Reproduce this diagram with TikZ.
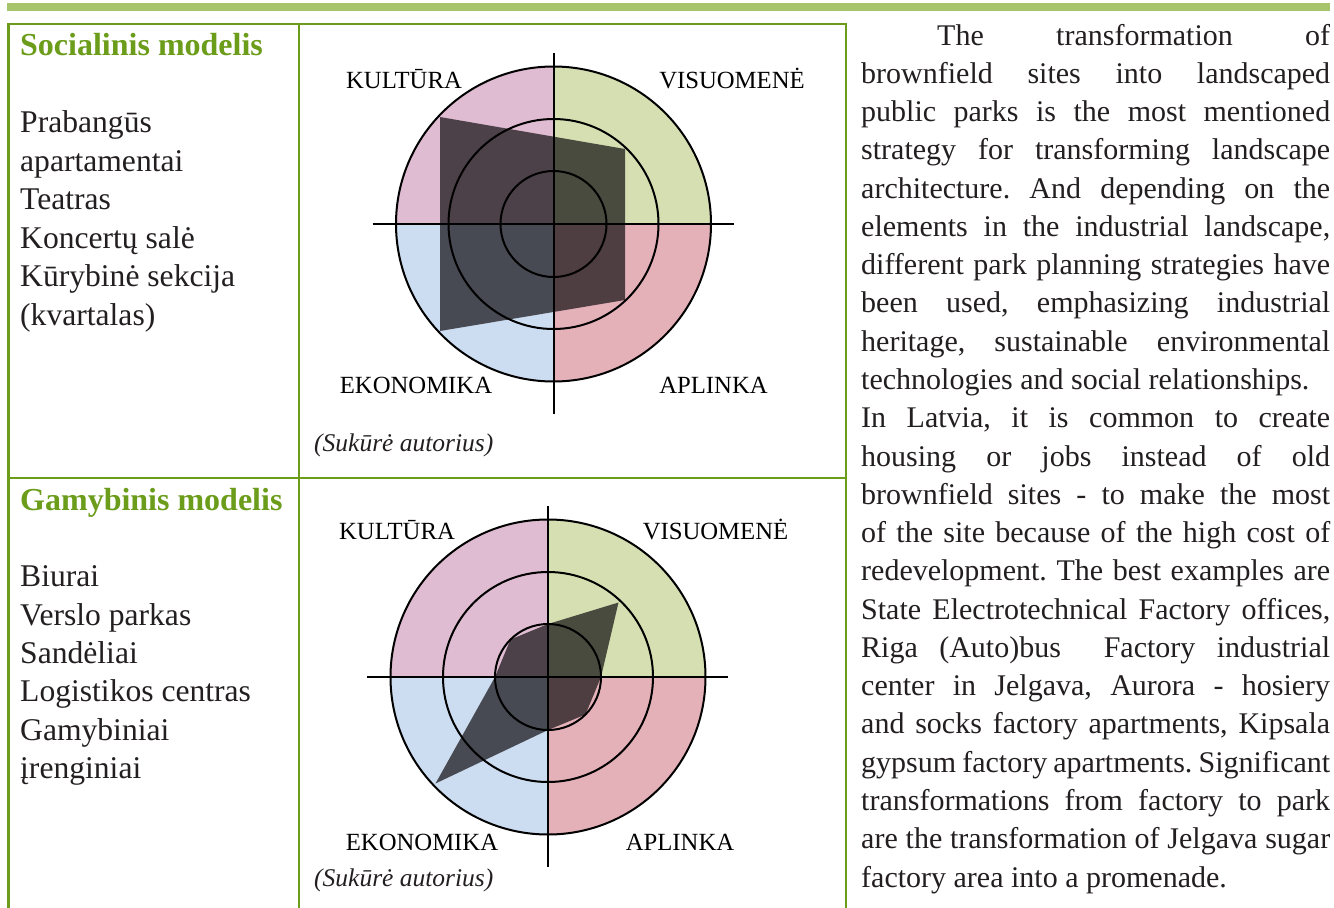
\documentclass[tikz,border=0pt]{standalone}
\usepackage{fontspec}
\setmainfont{Liberation Serif}
\definecolor{framegreen}{RGB}{107,156,26}
\definecolor{bargreen}{RGB}{166,196,106}
\definecolor{ink}{RGB}{35,31,32}
\definecolor{qpink}{RGB}{224,188,210}
\definecolor{qgreen}{RGB}{214,223,178}
\definecolor{qrose}{RGB}{229,177,184}
\definecolor{qblue}{RGB}{204,220,241}
\definecolor{shade}{RGB}{15,13,15}
\frenchspacing
% quadrant fills of one wheel (outer radius #1)
\newcommand{\wheelfills}[1]{%
  \fill[qgreen] (0,0) -- (0:#1) arc[start angle=0,end angle=90,radius=#1] -- cycle;
  \fill[qpink]  (0,0) -- (90:#1) arc[start angle=90,end angle=180,radius=#1] -- cycle;
  \fill[qblue]  (0,0) -- (180:#1) arc[start angle=180,end angle=270,radius=#1] -- cycle;
  \fill[qrose]  (0,0) -- (270:#1) arc[start angle=270,end angle=360,radius=#1] -- cycle;
}
% rings and cross of one wheel
\newcommand{\wheelrings}{%
  \draw[ring] (0,0) circle[radius=53pt];
  \draw[ring] (0,0) circle[radius=105pt];
  \draw[ring] (0,0) circle[radius=157.5pt];
  \draw[crossline] (-181,0) -- (180,0);
  \draw[crossline] (0,-171) -- (0,190);
}
\begin{document}
\begin{tikzpicture}[x=1pt,y=-1pt,
  tableline/.style={draw=framegreen,line width=2.7pt},
  ring/.style={draw=black,line width=2pt},
  crossline/.style={draw=black,line width=2pt},
  radarfill/.style={fill=shade,fill opacity=0.7},
  quadlabel/.style={font=\fontsize{24.7}{28}\selectfont,text=black,inner sep=0pt,anchor=base},
  sourcenote/.style={font=\fontsize{25.5}{30}\selectfont\itshape,text=ink,inner sep=0pt,anchor=base west},
  heading/.style={font=\fontsize{32}{38}\selectfont\bfseries,text=framegreen,inner sep=0pt,anchor=base west},
  listitem/.style={font=\fontsize{31.6}{38}\selectfont,text=ink,inner sep=0pt,anchor=base west},
  bodyline/.style={font=\fontsize{30}{38}\selectfont,text=ink,inner sep=0pt,anchor=base west}]
\useasboundingbox (0,0) rectangle (1334,908);
\fill[white] (0,0) rectangle (1334,908);

% top rule
\fill[bargreen] (7,3) rectangle (1330,10.5);

% table frame
\draw[tableline] (8.7,908) -- (8.7,24) -- (846,24) -- (846,908);
\draw[tableline] (8.7,478) -- (846,478);
\draw[tableline] (299,24) -- (299,908);

% left column: social model
\node[heading]  (hsoc) at (20,55)    {Socialinis modelis};
\node[listitem] (s1)   at (20,132.5) {Prabangūs};
\node[listitem] (s2)   at (20,171)   {apartamentai};
\node[listitem] (s3)   at (20,209.5) {Teatras};
\node[listitem] (s4)   at (20,248)   {Koncertų salė};
\node[listitem] (s5)   at (20,286.5) {Kūrybinė sekcija};
\node[listitem] (s6)   at (20,325)   {(kvartalas)};

% left column: production model
\node[heading]  (hgam) at (20,510.5) {Gamybinis modelis};
\node[listitem] (g1)   at (20,586.5) {Biurai};
\node[listitem] (g2)   at (20,625)   {Verslo parkas};
\node[listitem] (g3)   at (20,663.3) {Sandėliai};
\node[listitem] (g4)   at (20,701.7) {Logistikos centras};
\node[listitem] (g5)   at (20,740)   {Gamybiniai};
\node[listitem] (g6)   at (20,778.3) {įrenginiai};

% upper wheel
\begin{scope}[shift={(553.5,224)}]
  \wheelfills{157.5pt}
  \fill[radarfill] (-113.5,-107) -- (71.5,-75) -- (71.5,76) -- (-113.5,107) -- cycle;
  \wheelrings
\end{scope}
\node[quadlabel] (k1) at (404,88.5)  {KULTŪRA};
\node[quadlabel] (v1) at (732,88.5)  {VISUOMENĖ};
\node[quadlabel] (e1) at (416,393.5) {EKONOMIKA};
\node[quadlabel] (a1) at (713.5,393.5) {APLINKA};
\node[sourcenote] (src1) at (314,451) {(Sukūrė autorius)};

% lower wheel
\begin{scope}[shift={(548,677)}]
  \wheelfills{157.5pt}
  \fill[radarfill] (0,-53) -- (70.5,-74.5) -- (53,0) -- (37.5,37.5) -- (0,53)
     -- (-112.5,106.5) -- (-53,0) -- (-37.5,-37.5) -- cycle;
  \wheelrings
\end{scope}
\node[quadlabel] (k2) at (397,539.5) {KULTŪRA};
\node[quadlabel] (v2) at (715.5,539.5) {VISUOMENĖ};
\node[quadlabel] (e2) at (422,850.5) {EKONOMIKA};
\node[quadlabel] (a2) at (680,850.5) {APLINKA};
\node[sourcenote] (src2) at (314,886) {(Sukūrė autorius)};

% right column text
\node[bodyline] (t1)  at (937,45)     {\makebox[393pt][s]{The transformation of}};
\node[bodyline] (t2)  at (861,83.3)   {\makebox[469pt][s]{brownfield sites into landscaped}};
\node[bodyline] (t3)  at (861,121.5)  {\makebox[469pt][s]{public parks is the most mentioned}};
\node[bodyline] (t4)  at (861,159.8)  {\makebox[469pt][s]{strategy for transforming landscape}};
\node[bodyline] (t5)  at (861,198.1)  {\makebox[469pt][s]{architecture. And depending on the}};
\node[bodyline] (t6)  at (861,236.4)  {\makebox[469pt][s]{elements in the industrial landscape,}};
\node[bodyline] (t7)  at (861,274.6)  {\makebox[469pt][s]{different park planning strategies have}};
\node[bodyline] (t8)  at (861,312.9)  {\makebox[469pt][s]{been used, emphasizing industrial}};
\node[bodyline] (t9)  at (861,351.2)  {\makebox[469pt][s]{heritage, sustainable environmental}};
\node[bodyline] (t10) at (861,389.4)  {technologies and social relationships.};
\node[bodyline] (t11) at (861,427.7)  {\makebox[469pt][s]{In Latvia, it is common to create}};
\node[bodyline] (t12) at (861,466)    {\makebox[469pt][s]{housing or jobs instead of old}};
\node[bodyline] (t13) at (861,504.2)  {\makebox[469pt][s]{brownfield sites - to make the most}};
\node[bodyline] (t14) at (861,542.5)  {\makebox[469pt][s]{of the site because of the high cost of}};
\node[bodyline] (t15) at (861,580.8)  {\makebox[469pt][s]{redevelopment. The best examples are}};
\node[bodyline] (t16) at (861,619.1)  {\makebox[469pt][s]{State Electrotechnical Factory offices,}};
\node[bodyline] (t17) at (861,657.3)  {\makebox[469pt][s]{Riga (Auto)bus\ \ Factory industrial}};
\node[bodyline] (t18) at (861,695.6)  {\makebox[469pt][s]{center in Jelgava, Aurora - hosiery}};
\node[bodyline] (t19) at (861,733.9)  {\makebox[469pt][s]{and socks factory apartments, Kipsala}};
\node[bodyline] (t20) at (861,772.1)  {\makebox[469pt][s]{gypsum factory apartments. Significant}};
\node[bodyline] (t21) at (861,810.4)  {\makebox[469pt][s]{transformations from factory to park}};
\node[bodyline] (t22) at (861,848.7)  {\makebox[469pt][s]{are the transformation of Jelgava sugar}};
\node[bodyline] (t23) at (861,887)    {factory area into a promenade.};
\end{tikzpicture}
\end{document}
